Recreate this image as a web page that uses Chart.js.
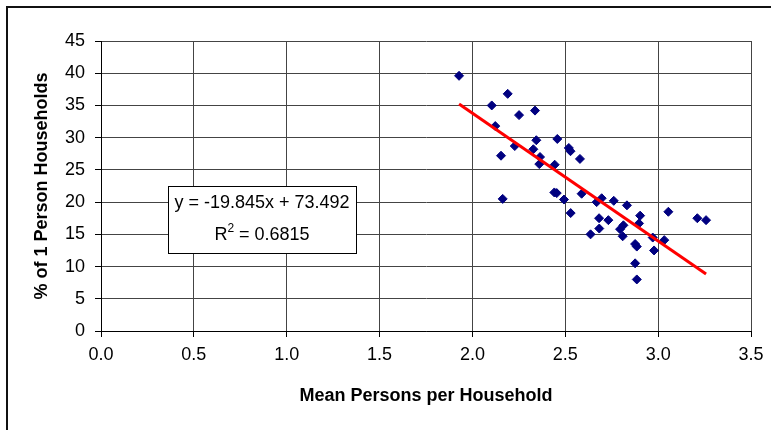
<!DOCTYPE html>
<html>
<head>
<meta charset="utf-8">
<script src="https://cdn.jsdelivr.net/npm/chart.js@4/dist/chart.umd.min.js"></script>
<style>
  html, body { margin: 0; padding: 0; background: #fff; }
  #wrap { width: 771px; height: 430px; }
</style>
</head>
<body>
<div id="wrap"><canvas id="c" width="771" height="430"></canvas></div>
<script>
// Mean household size vs. share of one-person households
const meanPersons = [
  1.928, 2.190, 2.104, 2.251, 2.337, 2.123, 2.344, 2.457, 2.519, 2.528,
  2.579, 2.228, 2.328, 2.154, 2.364, 2.360, 2.443, 2.163, 2.441, 2.454,
  2.493, 2.588, 2.529, 2.636, 2.696, 2.669, 2.761, 2.832, 3.055, 3.211,
  3.258, 2.903, 2.682, 2.732, 2.813, 2.897, 2.683, 2.795, 2.809, 2.971,
  3.033, 2.876, 2.885, 2.978, 2.876, 2.885
];
const onePersonPct = [
  39.6, 36.8, 35.0, 33.5, 34.2, 31.8, 29.6, 29.8, 28.4, 27.9,
  26.7, 28.7, 28.2, 27.2, 27.0, 25.9, 25.8, 20.5, 21.5, 21.4,
  20.4, 21.3, 18.3, 15.0, 20.6, 20.0, 20.2, 19.5, 18.5, 17.5,
  17.2, 17.9, 17.5, 17.2, 16.4, 16.7, 15.9, 15.8, 14.7, 14.5,
  14.1, 13.5, 13.1, 12.5, 10.5, 8.0
];

// Linear trend line
const slope = -19.845;
const intercept = 73.492;
const rSquared = 0.6815;

const xTitle = 'Mean Persons per Household';
const yTitle = '% of 1 Person Households';

const points = meanPersons.map((x, i) => ({ x: x, y: onePersonPct[i] }));
const xMin = Math.min(...meanPersons);
const xMax = Math.max(...meanPersons);
const trend = [
  { x: xMin, y: slope * xMin + intercept },
  { x: xMax, y: slope * xMax + intercept }
];

const FONT = "'Liberation Sans', Arial, sans-serif";
Chart.defaults.font.family = FONT;
Chart.defaults.color = '#000';

// Outer frame of the chart object
const framePlugin = {
  id: 'frame',
  beforeDraw(chart) {
    const ctx = chart.ctx;
    ctx.save();
    ctx.fillStyle = '#fff';
    ctx.fillRect(0, 0, chart.width, chart.height);
    ctx.fillStyle = '#111';
    ctx.fillRect(6, 6, 2, chart.height - 6);
    ctx.fillRect(6, 6, chart.width - 6, 2);
    ctx.restore();
  }
};

// Regression equation box
const equationPlugin = {
  id: 'equation',
  afterDraw(chart) {
    const ctx = chart.ctx;
    const a = chart.chartArea;
    const bx = a.left + 67, by = a.top + 145, bw = 188, bh = 67;
    ctx.save();
    ctx.fillStyle = '#fff';
    ctx.fillRect(bx, by, bw, bh);
    ctx.strokeStyle = '#000';
    ctx.lineWidth = 1;
    ctx.strokeRect(bx + 0.5, by + 0.5, bw, bh);

    const cx = bx + bw / 2;
    ctx.fillStyle = '#000';
    ctx.textBaseline = 'middle';
    ctx.textAlign = 'center';
    ctx.font = '18px ' + FONT;
    const sign = intercept >= 0 ? '+' : '-';
    const line1 = 'y = ' + slope.toFixed(3) + 'x ' + sign + ' ' + Math.abs(intercept).toFixed(3);
    ctx.fillText(line1, cx, by + 17);

    // R² line with a raised, smaller 2
    const partR = 'R';
    const partSup = '2';
    const partRest = ' = ' + rSquared.toFixed(4);
    ctx.font = '18px ' + FONT;
    const wR = ctx.measureText(partR).width;
    const wRest = ctx.measureText(partRest).width;
    ctx.font = '12px ' + FONT;
    const wSup = ctx.measureText(partSup).width;
    let x = cx - (wR + wSup + wRest) / 2;
    const y2 = by + 49;
    ctx.textAlign = 'left';
    ctx.font = '18px ' + FONT;
    ctx.fillText(partR, x, y2);
    x += wR;
    ctx.font = '12px ' + FONT;
    ctx.fillText(partSup, x, y2 - 6);
    x += wSup;
    ctx.font = '18px ' + FONT;
    ctx.fillText(partRest, x, y2);
    ctx.restore();
  }
};

new Chart(document.getElementById('c'), {
  type: 'scatter',
  data: {
    datasets: [
      {
        type: 'line',
        label: 'Linear trend',
        data: trend,
        borderColor: '#ff0000',
        borderWidth: 3,
        pointRadius: 0,
        fill: false,
        tension: 0
      },
      {
        label: yTitle,
        data: points,
        pointStyle: 'rectRot',
        pointRadius: 4.5,
        pointBackgroundColor: '#000080',
        pointBorderColor: '#000080',
        pointBorderWidth: 1
      }
    ]
  },
  options: {
    responsive: false,
    animation: false,
    devicePixelRatio: 1,
    layout: { padding: { top: 41, right: 20, bottom: 0, left: 0 } },
    plugins: {
      legend: { display: false },
      tooltip: { enabled: false }
    },
    scales: {
      x: {
        type: 'linear',
        min: 0,
        max: 3.5,
        afterFit(scale) { scale.height = 99; },
        ticks: {
          stepSize: 0.5,
          padding: 7,
          color: '#000',
          font: { size: 18 },
          callback: v => v.toFixed(1)
        },
        grid: {
          color: '#444',
          lineWidth: 1,
          tickLength: 6,
          tickColor: '#000'
        },
        border: { display: true, color: '#000', width: 1 },
        title: {
          display: true,
          text: xTitle,
          color: '#000',
          font: { size: 18, weight: 'bold' },
          padding: { top: 0, bottom: 23 }
        }
      },
      y: {
        type: 'linear',
        min: 0,
        max: 45,
        afterFit(scale) { scale.width = 101; },
        ticks: {
          stepSize: 5,
          padding: 10,
          color: '#000',
          font: { size: 18 }
        },
        grid: {
          color: '#444',
          lineWidth: 1,
          tickLength: 6,
          tickColor: '#000'
        },
        border: { display: true, color: '#000', width: 1 },
        title: {
          display: true,
          text: yTitle,
          color: '#000',
          font: { size: 18, weight: 'bold' },
          padding: { top: 31, bottom: 0 }
        }
      }
    }
  },
  plugins: [framePlugin, equationPlugin]
});
</script>
</body>
</html>
